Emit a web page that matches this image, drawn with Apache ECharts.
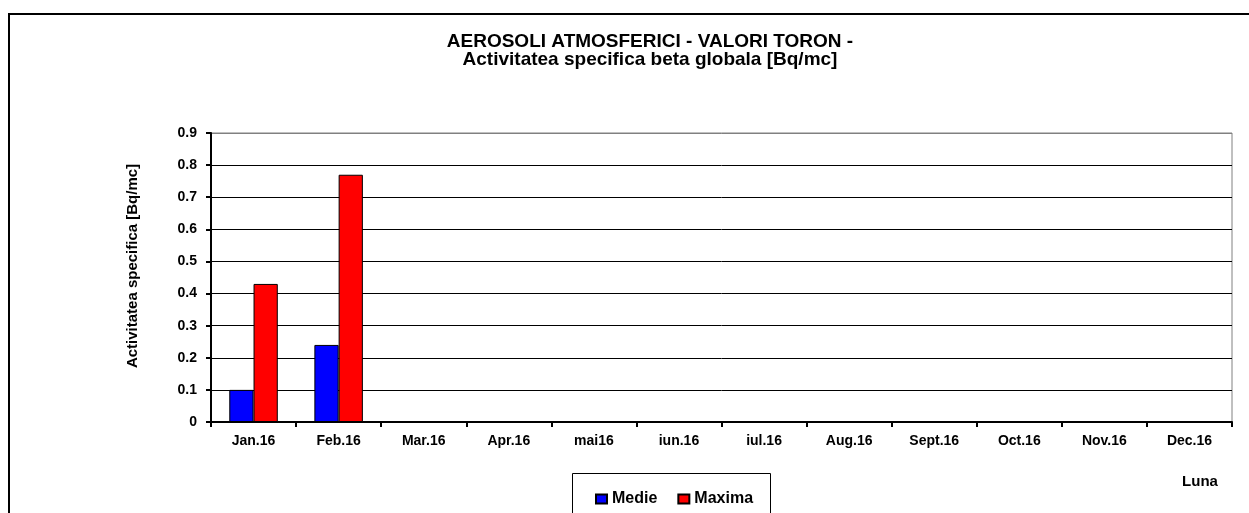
<!DOCTYPE html>
<html>
<head>
<meta charset="utf-8">
<script src="https://cdn.jsdelivr.net/npm/echarts@6/dist/echarts.min.js"></script>
<style>
html, body { margin: 0; padding: 0; background: #fff; }
#main { width: 1249px; height: 513px; }
</style>
</head>
<body>
<div id="main"></div>
<script>
var months = ['Jan.16', 'Feb.16', 'Mar.16', 'Apr.16', 'mai16', 'iun.16', 'iul.16', 'Aug.16', 'Sept.16', 'Oct.16', 'Nov.16', 'Dec.16'];
var medie = [0.1, 0.24, null, null, null, null, null, null, null, null, null, null];
var maxima = [0.43, 0.77, null, null, null, null, null, null, null, null, null, null];

var chartDom = document.getElementById('main');
var myChart = echarts.init(chartDom);
var font = 'Arial, "Liberation Sans", sans-serif';

// split line colours: black everywhere, grey on top (plot border)
var splitColors = ['#000', '#000', '#000', '#000', '#000', '#000', '#000', '#000', '#000', '#808080'];

var option = {
    animation: false,
    backgroundColor: '#fff',
    title: {
        text: 'AEROSOLI ATMOSFERICI - VALORI TORON -\nActivitatea specifica beta globala [Bq/mc]',
        left: 645,
        top: 28,
        textAlign: 'center',
        textStyle: {
            fontFamily: font,
            fontSize: 19,
            fontWeight: 'bold',
            color: '#000',
            lineHeight: 18
        }
    },
    legend: {
        left: 590,
        top: 486,
        itemWidth: 11,
        itemHeight: 9,
        itemGap: 20,
        icon: 'rect',
        textStyle: { fontFamily: font, fontSize: 16, fontWeight: 'bold', color: '#000', padding: [3, 0, 0, 0] },
        data: ['Medie', 'Maxima']
    },
    grid: {
        left: 211,
        top: 133,
        width: 1021,
        height: 289,
        show: true,
        borderColor: '#808080',
        borderWidth: 1
    },
    xAxis: {
        type: 'category',
        data: months,
        axisLine: { lineStyle: { color: '#000', width: 2 } },
        axisTick: { show: true, length: 5, lineStyle: { color: '#000', width: 2 } },
        axisLabel: { fontFamily: font, fontSize: 14, fontWeight: 'bold', color: '#000', margin: 12 }
    },
    yAxis: {
        type: 'value',
        min: 0,
        max: 0.9,
        interval: 0.1,
        axisLine: { show: true, lineStyle: { color: '#000', width: 2 } },
        axisTick: { show: true, length: 5, lineStyle: { color: '#000', width: 2 } },
        axisLabel: {
            fontFamily: font, fontSize: 14, fontWeight: 'bold', color: '#000', margin: 14,
            formatter: function (v) { return v === 0 ? '0' : v.toFixed(1); }
        },
        splitLine: { show: true, lineStyle: { color: splitColors, width: 1 } }
    },
    series: [
        {
            name: 'Medie',
            type: 'bar',
            data: medie,
            barGap: '0%',
            barCategoryGap: '43%',
            itemStyle: { color: '#0000FF', borderColor: '#000', borderWidth: 1 }
        },
        {
            name: 'Maxima',
            type: 'bar',
            data: maxima,
            itemStyle: { color: '#FF0000', borderColor: '#000', borderWidth: 1 }
        }
    ],
    graphic: [
        {
            type: 'rect',
            shape: { x: 9, y: 14, width: 1260, height: 600 },
            style: { fill: null, stroke: '#000', lineWidth: 2 },
            silent: true
        },
        {
            type: 'rect',
            shape: { x: 572.5, y: 473.5, width: 198, height: 60 },
            style: { fill: null, stroke: '#000', lineWidth: 1 },
            silent: true
        },
        {
            type: 'text',
            x: 133,
            y: 266,
            rotation: Math.PI / 2,
            style: {
                text: 'Activitatea specifica [Bq/mc]',
                fontFamily: font, fontSize: 15, fontWeight: 'bold', fill: '#000',
                align: 'center', verticalAlign: 'middle'
            }
        },
        {
            type: 'text',
            x: 1200,
            y: 482,
            style: {
                text: 'Luna',
                fontFamily: font, fontSize: 15, fontWeight: 'bold', fill: '#000',
                align: 'center', verticalAlign: 'middle'
            }
        }
    ]
};

option && myChart.setOption(option);
</script>
</body>
</html>
